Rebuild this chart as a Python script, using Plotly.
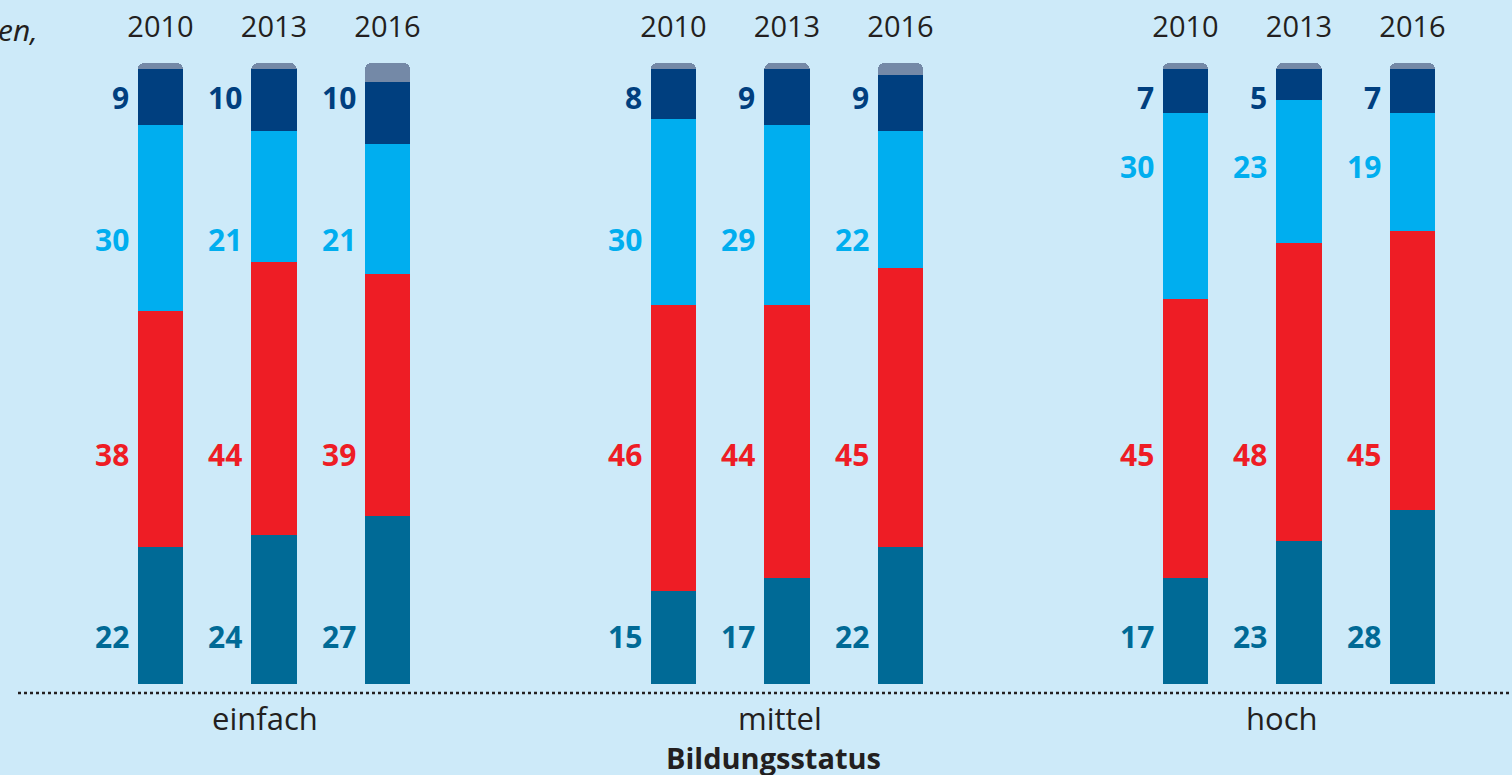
import plotly.graph_objects as go
from plotly.subplots import make_subplots

groups = ["einfach", "mittel", "hoch"]
years = ["2010", "2013", "2016"]

# values per group, per year (bottom to top)
teal = {"einfach": [22, 24, 27], "mittel": [15, 17, 22], "hoch": [17, 23, 28]}
red = {"einfach": [38, 44, 39], "mittel": [46, 44, 45], "hoch": [45, 48, 45]}
lightblue = {"einfach": [30, 21, 21], "mittel": [30, 29, 22], "hoch": [30, 23, 19]}
darkblue = {"einfach": [9, 10, 10], "mittel": [8, 9, 9], "hoch": [7, 5, 7]}

series_names = ["teal", "red", "lightblue", "darkblue", "rest"]
colors = {"teal": "#006a96", "red": "#ee1d25", "lightblue": "#00aeef",
          "darkblue": "#003f7f", "rest": "#7489a7"}
# label heights (in axis units) per series, per group
label_y = {"teal": [7.7, 7.7, 7.7], "red": [36.9, 36.9, 36.9],
           "lightblue": [71.5, 71.5, 83.4], "darkblue": [94.5, 94.5, 94.5]}

BG = "#cdeaf9"
TXT = "#231f20"
FONT = "Open Sans"

W, H = 1512, 775
mt, mb = 63, 91
ph = H - mt - mb
centers = [274, 787, 1299]
group_label_x = [265, 780, 1282]
cat_w = 113.5

fig = make_subplots(rows=1, cols=3)

data = {"teal": teal, "red": red, "lightblue": lightblue, "darkblue": darkblue}
for gi, g in enumerate(groups):
    rest = [100 - teal[g][i] - red[g][i] - lightblue[g][i] - darkblue[g][i] for i in range(3)]
    for s in series_names:
        y = rest if s == "rest" else data[s][g]
        fig.add_trace(go.Bar(x=years, y=y, marker=dict(color=colors[s], line=dict(width=0)),
                             width=0.405, showlegend=False, hoverinfo="skip"),
                      row=1, col=gi + 1)
    axn = "" if gi == 0 else str(gi + 1)
    for s in ["teal", "red", "lightblue", "darkblue"]:
        for yi, yr in enumerate(years):
            fig.add_annotation(x=yi, y=label_y[s][gi], xref="x" + axn, yref="y" + axn,
                               text="<b>%d</b>" % data[s][g][yi], showarrow=False,
                               xanchor="right", yanchor="middle", xshift=-30,
                               font=dict(family=FONT, size=30, color=colors[s]))
    c = centers[gi]
    d0 = (c - 1.5 * cat_w) / W
    d1 = (c + 1.5 * cat_w) / W
    fig.update_xaxes(domain=[d0, d1], type="category", range=[-0.5, 2.5], side="top",
                     showgrid=False, zeroline=False, showline=False,
                     ticks="outside", ticklen=13, tickcolor="rgba(0,0,0,0)",
                     tickfont=dict(family=FONT, size=29, color=TXT), row=1, col=gi + 1)
    fig.update_yaxes(range=[0, 100], visible=False, showgrid=False, row=1, col=gi + 1)
    fig.add_annotation(x=group_label_x[gi] / W, y=-(718 - (H - mb)) / ph, xref="paper",
                       yref="paper", text=g, showarrow=False, xanchor="center",
                       yanchor="middle", borderpad=0,
                       font=dict(family=FONT, size=31, color=TXT))

fig.add_annotation(x=773 / W, y=-(757 - (H - mb)) / ph, xref="paper", yref="paper",
                   text="<b>Bildungsstatus</b>", showarrow=False, xanchor="center",
                   yanchor="middle", borderpad=0,
                   font=dict(family=FONT, size=29, color=TXT))
fig.add_annotation(x=40 / W, y=(H - mb - 30) / ph, xref="paper", yref="paper",
                   text="<i>en,</i>", showarrow=False, xanchor="right", yanchor="middle",
                   font=dict(family=FONT, size=30, color=TXT))
fig.add_shape(type="line", xref="paper", yref="paper", x0=18 / W, x1=1.0,
              y0=-9 / ph, y1=-9 / ph, line=dict(color=TXT, width=2.5, dash="dot"))

fig.update_layout(width=W, height=H, barmode="stack", barcornerradius=7,
                  paper_bgcolor=BG, plot_bgcolor=BG,
                  margin=dict(l=0, r=0, t=mt, b=mb))
fig.write_html("out.html", config={"displayModeBar": False},
               post_script="document.body.style.margin='0';document.body.style.overflow='hidden';")
